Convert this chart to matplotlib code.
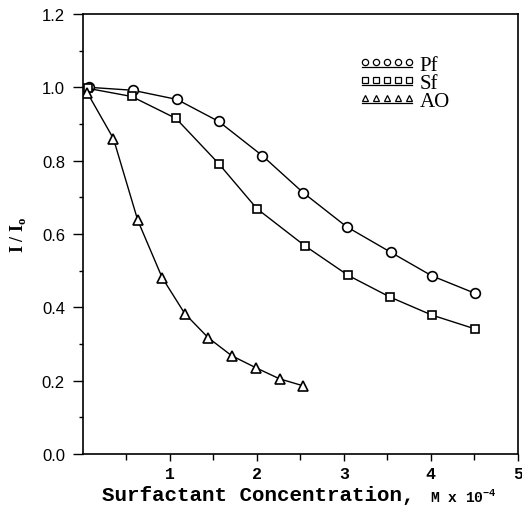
import numpy as np
import matplotlib
matplotlib.use("Agg")
import matplotlib.pyplot as plt
from matplotlib.lines import Line2D
from matplotlib.legend_handler import HandlerBase

# Data
pf_x = [0.07, 0.57, 1.08, 1.56, 2.06, 2.53, 3.03, 3.54, 4.01, 4.51]
pf_y = [1.000, 0.992, 0.967, 0.907, 0.814, 0.713, 0.620, 0.550, 0.486, 0.438]

sf_x = [0.06, 0.56, 1.07, 1.56, 2.00, 2.55, 3.05, 3.53, 4.01, 4.51]
sf_y = [0.997, 0.975, 0.915, 0.792, 0.669, 0.568, 0.487, 0.428, 0.379, 0.341]

ao_x = [0.05, 0.35, 0.63, 0.91, 1.17, 1.44, 1.71, 1.99, 2.26, 2.53]
ao_y = [0.985, 0.860, 0.637, 0.481, 0.383, 0.317, 0.268, 0.235, 0.205, 0.186]

series_labels = ["Pf", "Sf", "AO"]
x_ticks = [1, 2, 3, 4, 5]
y_ticks = [0.0, 0.2, 0.4, 0.6, 0.8, 1.0, 1.2]

fig = plt.figure(figsize=(5.22, 5.06), dpi=100)
ax = fig.add_axes([0.159, 0.1008, 0.833, 0.8696])

mk = dict(color="black", lw=1.0, mfc="white", mec="black", mew=1.2)
l1, = ax.plot(pf_x, pf_y, marker="o", ms=7, **mk)
l2, = ax.plot(sf_x, sf_y, marker="s", ms=6, **mk)
l3, = ax.plot(ao_x, ao_y, marker="^", ms=7, **mk)

ax.set_xlim(0, 5)
ax.set_ylim(0, 1.2)
ax.set_xticks(x_ticks)
ax.set_xticks(np.arange(0.5, 5, 1.0), minor=True)
ax.set_yticks(y_ticks)
ax.set_yticks(np.arange(0.1, 1.2, 0.2), minor=True)
ax.set_yticklabels([f"{v:.1f}" for v in y_ticks], fontfamily="Liberation Sans", fontsize=12)
ax.set_xticklabels([str(v) for v in x_ticks], fontfamily="Liberation Mono",
                   fontweight="bold", fontsize=12)
ax.tick_params(axis="y", which="major", direction="out", length=7, width=1, pad=6)
ax.tick_params(axis="y", which="minor", direction="out", length=3, width=1)
ax.tick_params(axis="x", which="major", direction="out", length=5, width=1, pad=4)
ax.tick_params(axis="x", which="minor", direction="out", length=4, width=1)
for s in ax.spines.values():
    s.set_linewidth(1.2)

ax.set_xlabel("Surfactant Concentration,", fontfamily="Liberation Mono",
              fontweight="bold", fontsize=15)
ax.xaxis.set_label_coords(0.402, -0.071)
ax.text(0.797, -0.096, r"M x 10$^{\mathregular{-4}}$", transform=ax.transAxes,
        fontfamily="Liberation Mono", fontweight="bold", fontsize=10.5,
        ha="left", va="center")

ax.set_ylabel(r"I / I$_{\mathregular{o}}$", fontfamily="Liberation Serif",
              fontweight="bold", fontsize=13)
ax.yaxis.set_label_coords(-0.126, 0.50)


class FiveUnder(HandlerBase):
    def create_artists(self, legend, orig_handle, xdescent, ydescent,
                       width, height, fontsize, trans):
        ms = 4.5
        x0 = -xdescent
        xs = np.linspace(x0 + ms / 2, x0 + width - ms / 2, 5)
        yc = -ydescent + height * 0.55
        m = Line2D(xs, [yc] * 5, ls="none", marker=orig_handle.get_marker(),
                   ms=ms, mfc="none", mec="black", mew=0.9, transform=trans)
        u = Line2D([x0, x0 + width], [yc - 3.4, yc - 3.4], color="black",
                   lw=0.9, transform=trans)
        return [m, u]


h = FiveUnder()
ax.legend([l1, l2, l3], series_labels, handler_map={l1: h, l2: h, l3: h},
          loc="upper left", bbox_to_anchor=(0.642, 0.905), frameon=False,
          borderpad=0, borderaxespad=0, handlelength=2.4, handletextpad=0.35,
          labelspacing=-0.08,
          prop={"family": "Liberation Serif", "size": 15})

fig.savefig("out.png", dpi=100)
